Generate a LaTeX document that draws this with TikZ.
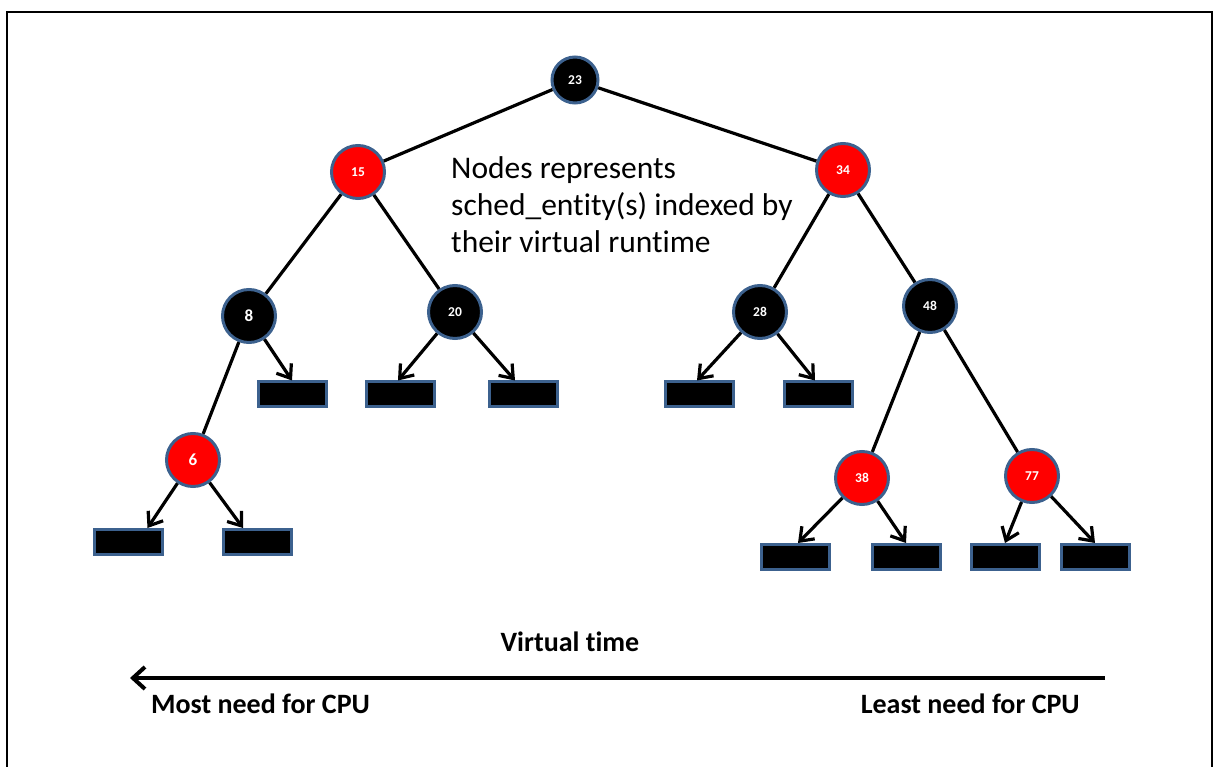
\documentclass[tikz,border=0pt]{standalone}
\usepackage{fontspec}
\setmainfont{Carlito}[Ligatures=NoCommon]
\usetikzlibrary{arrows.meta}
\definecolor{rim}{RGB}{60,97,142}
\definecolor{hot}{RGB}{255,0,0}

\begin{document}
\begin{tikzpicture}[x=1pt,y=-1pt,
  vnode/.style={circle, draw=rim, line width=3pt, minimum size=53pt, inner sep=0pt,
                text=white, font=\bfseries\fontsize{13.5}{13.5}\selectfont},
  blk/.style={vnode, fill=black},
  rd/.style={vnode, fill=hot},
  big/.style={font=\bfseries\fontsize{17}{17}\selectfont},
  leaf/.style={rectangle, draw=rim, fill=black, line width=3pt,
               minimum width=68pt, minimum height=25pt, inner sep=0pt},
  edge/.style={line width=3.2pt, black},
  ptr/.style={edge, -{Straight Barb[length=12pt,width=18pt]}},
  lbl/.style={font=\bfseries\fontsize{28}{28}\selectfont, inner sep=0pt},
]
\useasboundingbox (0,0) rectangle (1219,767);

% outer frame (open at the bottom)
\draw[line width=2.5pt] (7,767) -- (7,12) -- (1212,12) -- (1212,767);

% tree nodes
\node[blk, minimum size=46pt] (n23) at (575,80) {23};
\node[rd]  (n15) at (358,172) {15};
\node[rd]  (n34) at (843,170) {34};
\node[blk, big] (n8)  at (249,316) {8};
\node[blk] (n20) at (455,312) {20};
\node[blk] (n28) at (760,312) {28};
\node[blk] (n48) at (930,306) {48};
\node[rd, big]  (n6)  at (193,460) {6};
\node[rd]  (n38) at (862,478) {38};
\node[rd]  (n77) at (1032,476) {77};

% nil leaves
\node[leaf] (l8)   at (292,394.5) {};
\node[leaf] (l20a) at (400,394.5) {};
\node[leaf] (l20b) at (523,394.5) {};
\node[leaf] (l28a) at (699,394.5) {};
\node[leaf] (l28b) at (818,394.5) {};
\node[leaf] (l6a)  at (128.5,542) {};
\node[leaf] (l6b)  at (257,542) {};
\node[leaf] (l38a) at (795,557) {};
\node[leaf] (l38b) at (906,557) {};
\node[leaf] (l77a) at (1005,557) {};
\node[leaf] (l77b) at (1095,557) {};

% tree edges
\draw[edge] (n23) -- (n15);
\draw[edge] (n23) -- (n34);
\draw[edge] (n15) -- (n8);
\draw[edge] (n15) -- (n20);
\draw[edge] (n34) -- (n28);
\draw[edge] (n34) -- (n48);
\draw[edge] (n8)  -- (n6);
\draw[edge] (n48) -- (n38);
\draw[edge] (n48) -- (n77);

% pointers to nil leaves
\draw[ptr] (n8)  -- (l8.north);
\draw[ptr] (n20) -- ([xshift=-2pt]l20a.north);
\draw[ptr] (n20) -- ([xshift=-8pt]l20b.north);
\draw[ptr] (n28) -- ([xshift=-2pt]l28a.north);
\draw[ptr] (n28) -- ([xshift=-3pt]l28b.north);
\draw[ptr] (n6)  -- ([xshift=19pt]l6a.north);
\draw[ptr] (n6)  -- ([xshift=-14pt]l6b.north);
\draw[ptr] (n38) -- ([xshift=3pt]l38a.north);
\draw[ptr] (n38) -- (l38b.north);
\draw[ptr] (n77) -- (l77a.north);
\draw[ptr] (n77) -- (l77b.north);

% note
\node[anchor=north west, align=left, inner sep=0pt,
      font=\fontsize{31.5}{37}\selectfont] (note) at (451,156)
  {Nodes represents\\sched\_entity(s) indexed by\\their virtual runtime};

% virtual time axis
\coordinate (axR) at (1105,678);
\coordinate (axL) at (130,678);
\draw[line width=4pt, -{Straight Barb[length=12pt,width=22pt]}] (axR) -- (axL);
\node[lbl, anchor=base] (vt) at (570,651) {Virtual time};
\node[lbl, anchor=base west] (most) at (151,713) {Most need for CPU};
\node[lbl, anchor=base east] (least) at (1080,713) {Least need for CPU};
\end{tikzpicture}
\end{document}
